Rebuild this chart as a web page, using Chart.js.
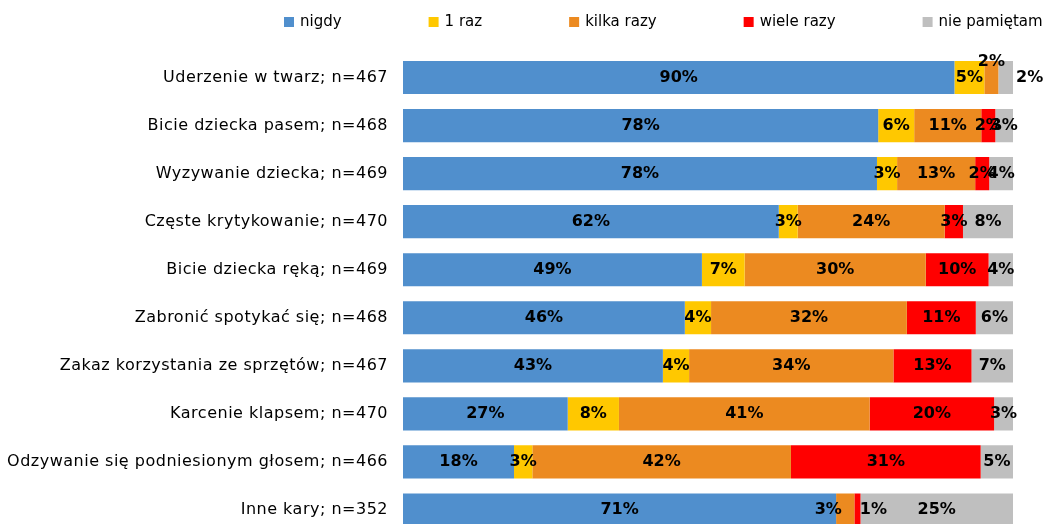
<!DOCTYPE html>
<html>
<head>
<meta charset="utf-8">
<script src="https://cdn.jsdelivr.net/npm/chart.js@4.4.0/dist/chart.umd.min.js"></script>
<style>
  html, body { margin: 0; padding: 0; background: #fff; overflow: hidden; }
  canvas { display: block; }
</style>
</head>
<body>
<canvas id="chart" width="1045" height="534"></canvas>
<script>
const categories = [
  "Uderzenie w twarz; n=467",
  "Bicie dziecka pasem; n=468",
  "Wyzywanie dziecka; n=469",
  "Częste krytykowanie; n=470",
  "Bicie dziecka ręką; n=469",
  "Zabronić spotykać się; n=468",
  "Zakaz korzystania ze sprzętów; n=467",
  "Karcenie klapsem; n=470",
  "Odzywanie się podniesionym głosem; n=466",
  "Inne kary; n=352"
];
const seriesNames = ["nigdy", "1 raz", "kilka razy", "wiele razy", "nie pamiętam"];
const seriesColors = ["#508FCD", "#FFC800", "#EC8A20", "#FF0000", "#BFBFBF"];

// percent of answers
const nigdy      = [90.4, 77.9, 77.7, 61.6, 49.0, 46.2, 42.6, 27.0, 18.2, 71.0];
const jedenRaz   = [4.9, 5.9, 3.3, 3.1, 7.0, 4.3, 4.3, 8.4, 3.0, 0];
const kilkaRazy  = [2.3, 11.0, 12.8, 24.1, 29.7, 32.1, 33.5, 41.1, 42.4, 3.0];
const wieleRazy  = [0, 2.3, 2.3, 3.0, 10.3, 11.3, 12.8, 20.4, 31.1, 1.0];
const niePamietam = [2.4, 2.9, 3.9, 8.2, 4.0, 6.1, 6.8, 3.1, 5.3, 25.0];

const seriesValues = [nigdy, jedenRaz, kilkaRazy, wieleRazy, niePamietam];

// labels that were moved by hand in the original (dataset-row)
const labelNudge = {
  "2-0": [0, -16],
  "4-0": [24, 0],
  "2-9": [-17, 0],
  "3-9": [16, 0]
};

// the original text is a bit stretched, widen the axis labels a little
const wideText = {
  id: "wideText",
  beforeDraw(chart) { chart.ctx.letterSpacing = "0.5px"; },
  beforeDatasetsDraw(chart) { chart.ctx.letterSpacing = "0px"; }
};

const valueLabels = {
  id: "valueLabels",
  afterDatasetsDraw(chart) {
    const ctx = chart.ctx;
    ctx.save();
    ctx.font = "bold 16px 'DejaVu Sans'";
    ctx.fillStyle = "#000";
    ctx.textAlign = "center";
    ctx.textBaseline = "middle";
    chart.data.datasets.forEach((ds, di) => {
      const meta = chart.getDatasetMeta(di);
      meta.data.forEach((bar, i) => {
        const v = ds.data[i];
        if (!v) return;
        const nudge = labelNudge[di + "-" + i] || [0, 0];
        const cx = (bar.x + bar.base) / 2 + nudge[0];
        const cy = bar.y + nudge[1];
        ctx.fillText(Math.round(v) + "%", cx, cy);
      });
    });
    ctx.restore();
  }
};

const topLegend = {
  id: "topLegend",
  afterDraw(chart) {
    const ctx = chart.ctx;
    ctx.save();
    ctx.letterSpacing = "0px";
    ctx.font = "15px 'DejaVu Sans'";
    ctx.textBaseline = "middle";
    ctx.textAlign = "left";
    let x = 284;
    const y = 22;
    chart.data.datasets.forEach(ds => {
      ctx.fillStyle = ds.backgroundColor;
      ctx.fillRect(x, y - 5, 10, 10);
      ctx.fillStyle = "#000";
      ctx.fillText(ds.label, x + 16, y);
      x += 16 + ctx.measureText(ds.label).width + 87;
    });
    ctx.restore();
  }
};

new Chart(document.getElementById("chart"), {
  type: "bar",
  data: {
    labels: categories,
    datasets: seriesNames.map((name, i) => ({
      label: name,
      data: seriesValues[i],
      backgroundColor: seriesColors[i],
      borderWidth: 0,
      barPercentage: 0.69,
      categoryPercentage: 1
    }))
  },
  options: {
    indexAxis: "y",
    responsive: false,
    animation: false,
    layout: { padding: { top: 53.5, right: 32, bottom: 0, left: 0 } },
    plugins: {
      legend: { display: false },
      tooltip: { enabled: false }
    },
    scales: {
      x: { stacked: true, min: 0, max: 100, display: false },
      y: {
        stacked: true,
        grid: { display: false, drawTicks: false },
        border: { display: false },
        ticks: {
          color: "#000",
          font: { family: "'DejaVu Sans'", size: 16 },
          padding: 15
        },
        afterFit(scale) {
          scale.width = 403;
          scale.paddingTop = 0;
          scale.paddingBottom = 0;
        }
      }
    }
  },
  plugins: [wideText, valueLabels, topLegend]
});
</script>
</body>
</html>
